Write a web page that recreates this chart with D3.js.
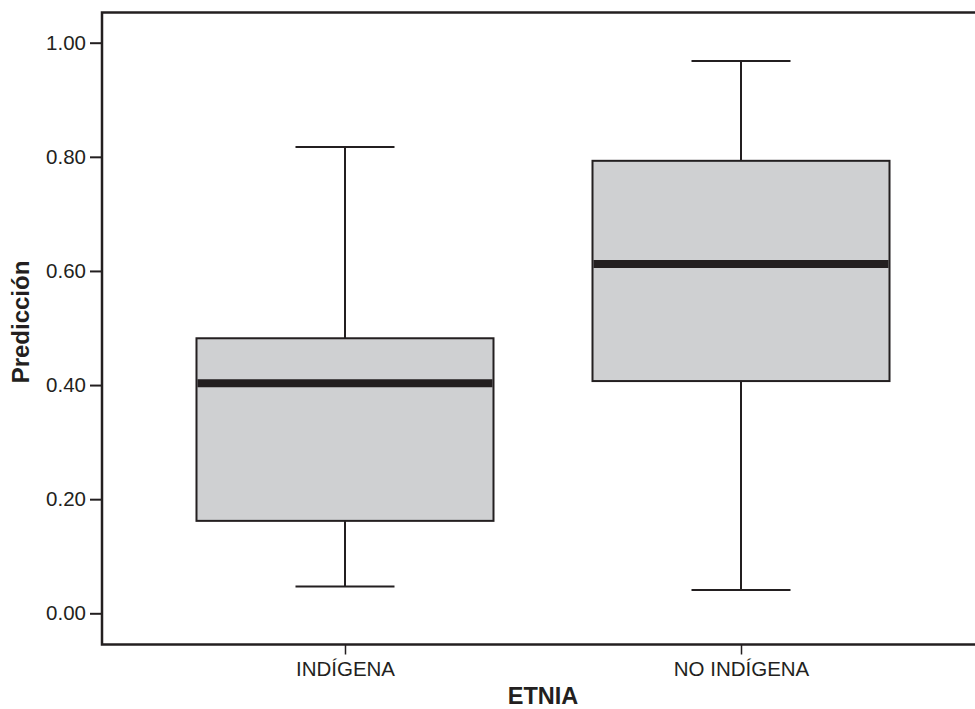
<!DOCTYPE html>
<html>
<head>
<meta charset="utf-8">
<script src="https://cdn.jsdelivr.net/npm/d3@7"></script>
<style>
  html, body { margin: 0; padding: 0; background: #fff; }
  svg { display: block; }
  text { font-family: "Liberation Sans", Arial, Helvetica, sans-serif; fill: #231f20; }
</style>
</head>
<body>
<svg id="chart" width="975" height="709"></svg>
<script>
// Predicted probability by ethnic group (five-number summaries)
const categories = ["INDÍGENA", "NO INDÍGENA"];
const whiskerLow  = [0.047, 0.041];
const quartile1   = [0.162, 0.407];
const medians     = [0.403, 0.612];
const quartile3   = [0.482, 0.793];
const whiskerHigh = [0.817, 0.968];
const yTicks = [0, 0.2, 0.4, 0.6, 0.8, 1.0];
const xTitle = "ETNIA";
const yTitle = "Predicción";

const ink = "#231f20";
const boxFill = "#cfd0d2";

const svg = d3.select("#chart");
const frame = { left: 102, right: 984, top: 12.5, bottom: 644.5 };

const y = d3.scaleLinear().domain([0, 1]).range([613.3, 42.7]);
const x = d3.scalePoint().domain(categories).range([frame.left, frame.right]).padding(0.6136);
const step = x.step();
const boxW = step * 0.75;
const capW = step * 0.25;

const stats = categories.map((c, i) => ({
  cat: c, lo: whiskerLow[i], q1: quartile1[i], med: medians[i], q3: quartile3[i], hi: whiskerHigh[i]
}));

// plot frame (top, left and bottom edges; right edge runs off the canvas)
svg.append("rect")
  .attr("x", frame.left).attr("y", frame.top)
  .attr("width", frame.right - frame.left).attr("height", frame.bottom - frame.top)
  .attr("fill", "none").attr("stroke", ink).attr("stroke-width", 2.5);

const g = svg.append("g");
const box = g.selectAll("g.box").data(stats).join("g").attr("class", "box");

// whisker stems
box.append("line")
  .attr("x1", d => x(d.cat)).attr("x2", d => x(d.cat))
  .attr("y1", d => y(d.hi)).attr("y2", d => y(d.q3))
  .attr("stroke", ink).attr("stroke-width", 2);
box.append("line")
  .attr("x1", d => x(d.cat)).attr("x2", d => x(d.cat))
  .attr("y1", d => y(d.q1)).attr("y2", d => y(d.lo))
  .attr("stroke", ink).attr("stroke-width", 2);
// whisker caps
["hi", "lo"].forEach(k => {
  box.append("line")
    .attr("x1", d => x(d.cat) - capW / 2).attr("x2", d => x(d.cat) + capW / 2)
    .attr("y1", d => y(d[k])).attr("y2", d => y(d[k]))
    .attr("stroke", ink).attr("stroke-width", 2);
});
// interquartile box
box.append("rect")
  .attr("x", d => x(d.cat) - boxW / 2).attr("width", boxW)
  .attr("y", d => y(d.q3)).attr("height", d => y(d.q1) - y(d.q3))
  .attr("fill", boxFill).attr("stroke", ink).attr("stroke-width", 2);
// median band
box.append("line")
  .attr("x1", d => x(d.cat) - boxW / 2 + 1).attr("x2", d => x(d.cat) + boxW / 2 - 1)
  .attr("y1", d => y(d.med)).attr("y2", d => y(d.med))
  .attr("stroke", ink).attr("stroke-width", 8);

// y axis
const yAxis = svg.append("g")
  .attr("transform", `translate(${frame.left},0)`)
  .call(d3.axisLeft(y).tickValues(yTicks).tickFormat(d3.format(".2f")).tickSize(12).tickPadding(4));
yAxis.select(".domain").remove();
yAxis.selectAll(".tick line").attr("stroke", ink).attr("stroke-width", 2);
yAxis.selectAll(".tick text").attr("font-size", 20.5).attr("fill", ink)
  .style("font-family", "'Liberation Sans', Arial, sans-serif");

// x axis
const xAxis = svg.append("g")
  .attr("transform", `translate(0,${frame.bottom})`)
  .call(d3.axisBottom(x).tickSize(10).tickPadding(7));
xAxis.select(".domain").remove();
xAxis.selectAll(".tick line").attr("stroke", ink).attr("stroke-width", 1.5);
xAxis.selectAll(".tick text").attr("font-size", 20.5).attr("fill", ink)
  .style("font-family", "'Liberation Sans', Arial, sans-serif");

// axis titles
svg.append("text")
  .attr("x", 543).attr("y", 704)
  .attr("text-anchor", "middle").attr("font-size", 23.5).attr("font-weight", "bold")
  .text(xTitle);
svg.append("text")
  .attr("transform", `translate(29,322) rotate(-90)`)
  .attr("text-anchor", "middle").attr("font-size", 24).attr("font-weight", "bold")
  .text(yTitle);
</script>
</body>
</html>
